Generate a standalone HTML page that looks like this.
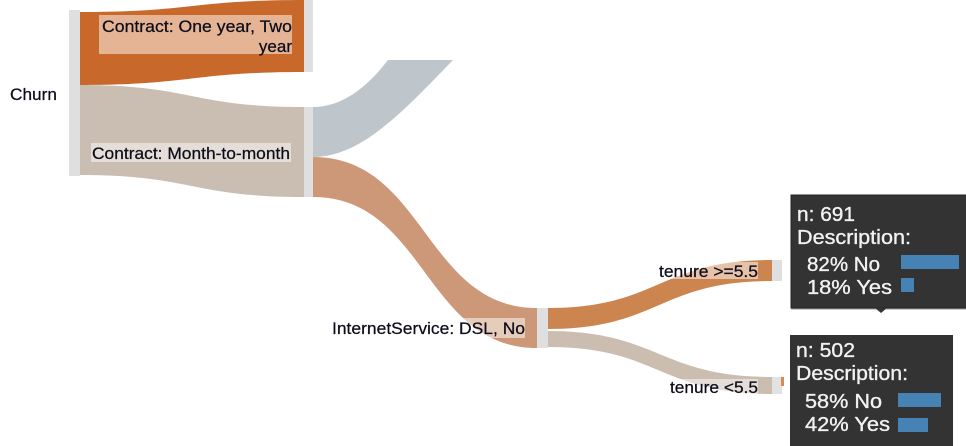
<!DOCTYPE html>
<html>
<head>
<meta charset="utf-8">
<style>
  html, body { margin: 0; padding: 0; background: #ffffff; }
  svg { display: block; }
  .lbl { font-family: "Liberation Sans", Arial, sans-serif; font-size: 17px; fill: #0d0d1a; stroke: #0d0d1a; stroke-width: 0.25; }
  .tt { font-family: "Liberation Sans", Arial, sans-serif; font-size: 20px; fill: #f2f2f2; stroke: #f2f2f2; stroke-width: 0.35; }
</style>
</head>
<body>
<svg width="966" height="446" viewBox="0 0 966 446" xmlns="http://www.w3.org/2000/svg">
  <rect x="0" y="0" width="966" height="446" fill="#ffffff"/>

  <!-- Links -->
  <path d="M80,12 C192,12 192,0 304,0 L304,72 C192,72 192,85 80,85 Z" fill="#c8692b"/>
  <path d="M80,85 C192,85 192,107 304,107 L304,197 C192,197 192,175 80,175 Z" fill="#cabdb1"/>
  <path d="M313,107 C340,107 365,90 388,60 L453,60 C400,115 360,157 313,157 Z" fill="#bec5cb"/>
  <path d="M313,157 C425,157 425,308 537,308 L537,348 C425,348 425,197 313,197 Z" fill="#cc9877"/>
  <path d="M548,308 C659,308 659,260 772,260 L772,281 C659,281 659,329 548,329 Z" fill="#cd8550"/>
  <path d="M548,331 C659,331 659,377 772,377 L772,394 C659,394 659,347 548,347 Z" fill="#cbbdb0"/>

  <!-- Nodes -->
  <rect x="69" y="10" width="11" height="166" fill="#dfdfdf"/>
  <rect x="304" y="0" width="9" height="72" fill="#dfdfdf"/>
  <rect x="304" y="107" width="9" height="90" fill="#dfdfdf"/>
  <rect x="537" y="308" width="11" height="40" fill="#dfdfdf"/>
  <rect x="772" y="260" width="10" height="21" fill="#dfdfdf"/>
  <rect x="772" y="377" width="10" height="17" fill="#e2e2e2"/>
  <rect x="781" y="377" width="3" height="9" fill="#d88a50"/>

  <!-- Label backgrounds (semi-transparent white) -->
  <rect x="99" y="15" width="193" height="39" fill="#ffffff" fill-opacity="0.5"/>
  <rect x="91" y="143" width="200" height="19" fill="#ffffff" fill-opacity="0.5"/>
  <rect x="330" y="318" width="195" height="20" fill="#ffffff" fill-opacity="0.5"/>
  <rect x="657" y="262" width="101" height="17" fill="#ffffff" fill-opacity="0.5"/>
  <rect x="668" y="379" width="90" height="16" fill="#ffffff" fill-opacity="0.5"/>

  <!-- Labels -->
  <text class="lbl" x="10" y="100" textLength="47" lengthAdjust="spacingAndGlyphs">Churn</text>
  <text class="lbl" x="292" y="32" text-anchor="end" textLength="190" lengthAdjust="spacingAndGlyphs">Contract: One year, Two</text>
  <text class="lbl" x="292" y="52" text-anchor="end">year</text>
  <text class="lbl" x="290" y="159" text-anchor="end" textLength="198" lengthAdjust="spacingAndGlyphs">Contract: Month-to-month</text>
  <text class="lbl" x="525" y="334" text-anchor="end" textLength="193" lengthAdjust="spacingAndGlyphs">InternetService: DSL, No</text>
  <text class="lbl" x="758" y="277" text-anchor="end" textLength="99" lengthAdjust="spacingAndGlyphs">tenure &gt;=5.5</text>
  <text class="lbl" x="758" y="393" text-anchor="end" textLength="88" lengthAdjust="spacingAndGlyphs">tenure &lt;5.5</text>

  <!-- Tooltip 1 -->
  <rect x="791" y="195" width="180" height="113" fill="#333333" stroke="#262626" stroke-width="1"/>
  <line x1="791" y1="309" x2="966" y2="309" stroke="#9a9a9a" stroke-width="1"/>
  <polygon points="875,308 887,308 881,313" fill="#333333"/>
  <text class="tt" x="797" y="221" textLength="58" lengthAdjust="spacingAndGlyphs">n: 691</text>
  <text class="tt" x="797" y="244" textLength="114" lengthAdjust="spacingAndGlyphs">Description:</text>
  <text class="tt" x="807" y="271" textLength="73" lengthAdjust="spacingAndGlyphs">82% No</text>
  <text class="tt" x="807" y="294" textLength="85" lengthAdjust="spacingAndGlyphs">18% Yes</text>
  <rect x="901" y="255" width="58" height="14" fill="#4682b4"/>
  <rect x="901" y="278" width="13" height="14" fill="#4682b4"/>

  <!-- Tooltip 2 -->
  <rect x="790" y="335" width="163" height="111" fill="#333333"/>
  <text class="tt" x="796" y="357" textLength="59" lengthAdjust="spacingAndGlyphs">n: 502</text>
  <text class="tt" x="796" y="380" textLength="112" lengthAdjust="spacingAndGlyphs">Description:</text>
  <text class="tt" x="805" y="408" textLength="77" lengthAdjust="spacingAndGlyphs">58% No</text>
  <text class="tt" x="805" y="431" textLength="85" lengthAdjust="spacingAndGlyphs">42% Yes</text>
  <rect x="898" y="393" width="43" height="14" fill="#4682b4"/>
  <rect x="898" y="418" width="30" height="14" fill="#4682b4"/>
</svg>
</body>
</html>
